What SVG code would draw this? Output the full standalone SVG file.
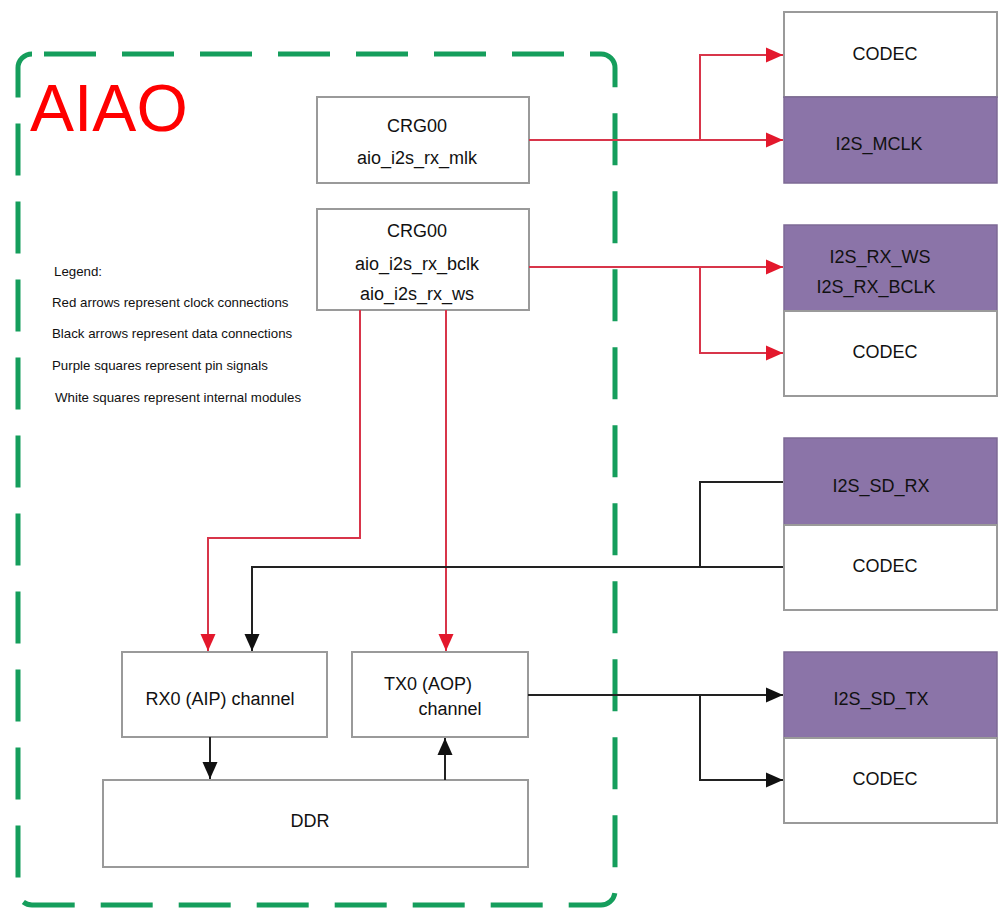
<svg xmlns="http://www.w3.org/2000/svg" width="998" height="909" viewBox="0 0 998 909">
  <defs>
    <style>
      .box { fill: #ffffff; stroke: #9a9a9a; stroke-width: 2; }
      .pin { fill: #8b74a8; stroke: #7d6a95; stroke-width: 1.5; }
      .lbl { font-family: "Liberation Sans", Arial, sans-serif; font-size: 18px; fill: #111; text-anchor: middle; }
      .legend { font-family: "Liberation Sans", Arial, sans-serif; font-size: 13.3px; fill: #111; }
      .clk { fill: none; stroke: #d8354a; stroke-width: 2; }
      .dat { fill: none; stroke: #222; stroke-width: 2; }
    </style>
    <marker id="arrRed" markerUnits="userSpaceOnUse" markerWidth="18" markerHeight="18" refX="17" refY="9" orient="auto">
      <path d="M0,1.5 L17,9 L0,16.5 z" fill="#e3182c"/>
    </marker>
    <marker id="arrBlk" markerUnits="userSpaceOnUse" markerWidth="18" markerHeight="18" refX="17" refY="9" orient="auto">
      <path d="M0,1.5 L17,9 L0,16.5 z" fill="#111"/>
    </marker>
  </defs>

  <rect width="998" height="909" fill="#ffffff"/>

  <!-- AIAO boundary -->
  <g id="aiao">
    <rect x="18" y="54" width="597" height="851" rx="14" fill="none" stroke="#159e5c" stroke-width="5" stroke-dasharray="52 26" stroke-dashoffset="-12"/>
    <text x="30" y="131" font-family="Liberation Sans, Arial, sans-serif" font-size="66" fill="#ff0000">AIAO</text>
  </g>

  <!-- Legend -->
  <g id="legend" class="legend">
    <text x="54" y="276">Legend:</text>
    <text x="52" y="307">Red arrows represent clock connections</text>
    <text x="52" y="338">Black arrows represent data connections</text>
    <text x="52" y="370">Purple squares represent pin signals</text>
    <text x="55" y="402">White squares represent internal modules</text>
  </g>

  <!-- Internal modules -->
  <g id="crg-mclk">
    <rect class="box" x="317" y="97" width="212" height="86"/>
    <text class="lbl" x="417" y="132">CRG00</text>
    <text class="lbl" x="417" y="164">aio_i2s_rx_mlk</text>
  </g>
  <g id="crg-bclk">
    <rect class="box" x="317" y="209" width="212" height="101"/>
    <text class="lbl" x="417" y="237">CRG00</text>
    <text class="lbl" x="417" y="270">aio_i2s_rx_bclk</text>
    <text class="lbl" x="417" y="300">aio_i2s_rx_ws</text>
  </g>
  <g id="rx0">
    <rect class="box" x="122" y="652" width="205" height="85"/>
    <text class="lbl" x="220" y="705">RX0 (AIP) channel</text>
  </g>
  <g id="tx0">
    <rect class="box" x="352" y="652" width="176" height="85"/>
    <text class="lbl" x="428" y="690">TX0 (AOP)</text>
    <text class="lbl" x="450" y="715">channel</text>
  </g>
  <g id="ddr">
    <rect class="box" x="103" y="780" width="425" height="87"/>
    <text class="lbl" x="310" y="827">DDR</text>
  </g>

  <!-- External pins and codecs -->
  <g id="codec-1">
    <rect class="box" x="784" y="12" width="213" height="85"/>
    <text class="lbl" x="885" y="60">CODEC</text>
  </g>
  <g id="pin-mclk">
    <rect class="pin" x="784" y="97" width="213" height="86"/>
    <text class="lbl" x="879" y="150">I2S_MCLK</text>
  </g>
  <g id="pin-ws-bclk">
    <rect class="pin" x="784" y="225" width="213" height="86"/>
    <text class="lbl" x="880" y="263">I2S_RX_WS</text>
    <text class="lbl" x="876" y="293">I2S_RX_BCLK</text>
  </g>
  <g id="codec-2">
    <rect class="box" x="784" y="311" width="213" height="85"/>
    <text class="lbl" x="885" y="358">CODEC</text>
  </g>
  <g id="pin-sd-rx">
    <rect class="pin" x="784" y="438" width="213" height="87"/>
    <text class="lbl" x="881" y="492">I2S_SD_RX</text>
  </g>
  <g id="codec-3">
    <rect class="box" x="784" y="525" width="213" height="85"/>
    <text class="lbl" x="885" y="572">CODEC</text>
  </g>
  <g id="pin-sd-tx">
    <rect class="pin" x="784" y="652" width="213" height="86"/>
    <text class="lbl" x="881" y="705">I2S_SD_TX</text>
  </g>
  <g id="codec-4">
    <rect class="box" x="784" y="738" width="213" height="85"/>
    <text class="lbl" x="885" y="785">CODEC</text>
  </g>

  <!-- Connectors -->
  <g id="connectors">
    <!-- clocks -->
    <path class="clk" d="M529,140 H783" marker-end="url(#arrRed)"/>
    <path class="clk" d="M700,140 V55 H783" marker-end="url(#arrRed)"/>
    <path class="clk" d="M529,267 H783" marker-end="url(#arrRed)"/>
    <path class="clk" d="M700,267 V353 H783" marker-end="url(#arrRed)"/>
    <path class="clk" d="M360,310 V538 H208 V651" marker-end="url(#arrRed)"/>
    <path class="clk" d="M446,310 V651" marker-end="url(#arrRed)"/>
    <!-- data -->
    <path class="dat" d="M783,482 H700 V567"/>
    <path class="dat" d="M783,567 H252 V651" marker-end="url(#arrBlk)"/>
    <path class="dat" d="M528,695 H783" marker-end="url(#arrBlk)"/>
    <path class="dat" d="M700,695 V780 H783" marker-end="url(#arrBlk)"/>
    <path class="dat" d="M210,737 V779" marker-end="url(#arrBlk)"/>
    <path class="dat" d="M445,780 V738" marker-end="url(#arrBlk)"/>
  </g>
</svg>
